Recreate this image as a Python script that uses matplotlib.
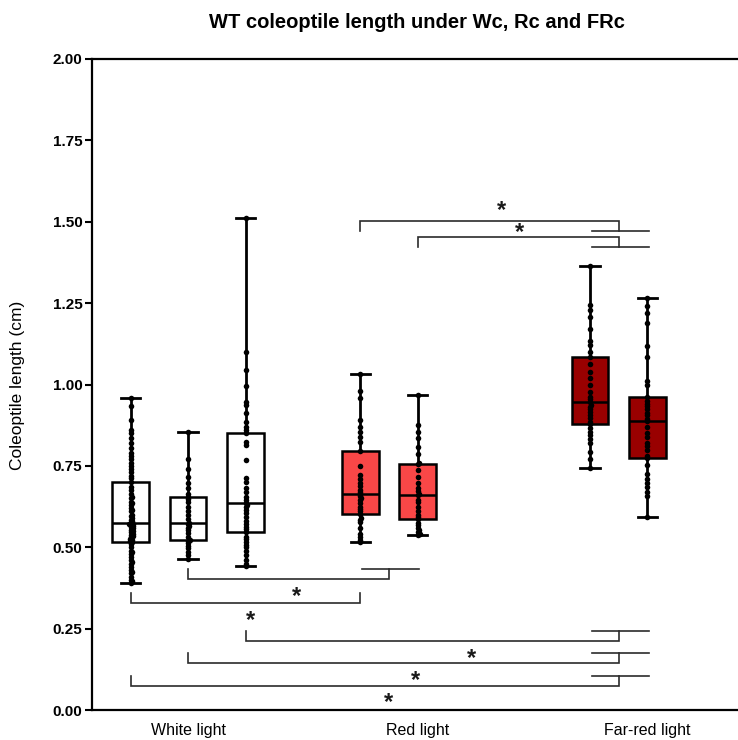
import matplotlib
matplotlib.use('Agg')
import matplotlib.pyplot as plt
import numpy as np

plt.rcParams['font.family'] = ['Liberation Sans', 'DejaVu Sans']

# ---------------- data ----------------
groups = ['White light', 'Red light', 'Far-red light']

wl1 = [0.39, 0.395, 0.40, 0.41, 0.42, 0.425, 0.43, 0.44, 0.45, 0.455, 0.46, 0.47, 0.48, 0.485, 0.49, 0.50, 0.51,
       0.515,
       0.518, 0.522, 0.525, 0.53, 0.534, 0.538, 0.542, 0.546, 0.55, 0.554, 0.558, 0.562, 0.565, 0.568, 0.57, 0.572,
       0.575,
       0.58, 0.585, 0.59, 0.595, 0.60, 0.61, 0.615, 0.62, 0.63, 0.635, 0.64, 0.65, 0.655, 0.665, 0.675, 0.685,
       0.70,
       0.712, 0.72, 0.73, 0.74, 0.75, 0.76, 0.77, 0.78, 0.79, 0.805, 0.82, 0.835, 0.85, 0.86, 0.89, 0.935,
       0.96]
wl2 = [0.464, 0.476, 0.486, 0.498, 0.505, 0.512, 0.518, 0.522, 0.532, 0.543, 0.553, 0.56, 0.565, 0.57,
       0.575, 0.586, 0.599, 0.61, 0.624, 0.64, 0.648, 0.655, 0.664, 0.682, 0.697, 0.716, 0.74, 0.771, 0.855]
wl3 = [0.442, 0.45, 0.46, 0.475, 0.49, 0.50, 0.507, 0.515, 0.525, 0.532, 0.548,
       0.555, 0.563, 0.57, 0.58, 0.594, 0.605, 0.615, 0.625, 0.63, 0.637,
       0.645, 0.655, 0.67, 0.682, 0.70, 0.713, 0.768, 0.814, 0.824, 0.85,
       0.86, 0.87, 0.886, 0.912, 0.937, 0.947, 0.995, 1.045, 1.10, 1.51]
red1 = [0.515, 0.522, 0.53, 0.541, 0.56, 0.578, 0.585, 0.59, 0.601,
        0.61, 0.618, 0.625, 0.635, 0.645, 0.65, 0.657, 0.663,
        0.67, 0.676, 0.687, 0.696, 0.71, 0.722, 0.75, 0.796,
        0.824, 0.84, 0.855, 0.87, 0.891, 0.96, 0.98, 1.031]
red2 = [0.538, 0.542, 0.548, 0.553, 0.56, 0.567, 0.573, 0.586,
        0.592, 0.599, 0.61, 0.625, 0.638, 0.645, 0.66,
        0.665, 0.672, 0.681, 0.696, 0.717, 0.737, 0.755,
        0.76, 0.785, 0.807, 0.835, 0.855, 0.876, 0.968]
fr1 = [0.742, 0.77, 0.794, 0.819, 0.832, 0.845, 0.855, 0.865, 0.878,
       0.886, 0.896, 0.906, 0.915, 0.925, 0.932, 0.937, 0.946,
       0.955, 0.963, 0.978, 0.998, 1.02, 1.039, 1.063, 1.085,
       1.101, 1.12, 1.135, 1.17, 1.208, 1.23, 1.245, 1.364]
fr2 = [0.594, 0.657, 0.671, 0.685, 0.696, 0.71, 0.725, 0.753, 0.773,
       0.78, 0.799, 0.81, 0.821, 0.84, 0.852, 0.87, 0.889,
       0.895, 0.905, 0.911, 0.925, 0.935, 0.941, 0.95, 0.961,
       0.998, 1.011, 1.083, 1.117, 1.19, 1.219, 1.24, 1.265]

series = [wl1, wl2, wl3, red1, red2, fr1, fr2]
positions = [0, 1, 2, 4, 5, 8, 9]
label_positions = [1, 5, 9]
face_colors = ['white', 'white', 'white', '#F94747', '#F94747', '#990000', '#990000']
yticks = [0.0, 0.25, 0.5, 0.75, 1.0, 1.25, 1.5, 1.75, 2.0]

# comparisons: (left pos, right pos, bar y, tick length (+ up / - down), group span or None, star x, star y)
comparisons = [
    (1, 4.5, 0.4015, 0.031, (4.03, 5.03), 2.88, 0.366),
    (0, 4.0, 0.3296, 0.031, None, 2.09, 0.293),
    (2, 8.5, 0.2129, 0.030, (8.03, 9.03), 5.93, 0.175),
    (1, 8.5, 0.1453, 0.031, (8.03, 9.03), 4.965, 0.108),
    (0, 8.5, 0.0737, 0.032, (8.03, 9.03), 4.49, 0.040),
    (4, 8.5, 1.5023, -0.032, (8.03, 9.03), 6.46, 1.552),
    (5, 8.5, 1.4522, -0.031, (8.03, 9.03), 6.78, 1.484),
]

# ---------------- figure ----------------
W, H = 738, 740
fig = plt.figure(figsize=(W / 100, H / 100), dpi=100)
ax_left, ax_right, ax_top, ax_bot = 92, 760, 59, 710
ax = fig.add_axes([ax_left / W, 1 - ax_bot / H, (ax_right - ax_left) / W, (ax_bot - ax_top) / H])

unit_px = 57.4
x0_px = 130.7
ax.set_xlim((ax_left - x0_px) / unit_px, (ax_right - x0_px) / unit_px)
ax.set_ylim(0, 2.0)

bp = ax.boxplot(series, positions=positions, widths=0.64, whis=(0, 100), showfliers=False,
                patch_artist=True, capwidths=0.34,
                boxprops=dict(linewidth=1.8, edgecolor='black'),
                medianprops=dict(color='black', linewidth=1.8),
                whiskerprops=dict(color='black', linewidth=2.0),
                capprops=dict(color='black', linewidth=2.0))
for patch, c in zip(bp['boxes'], face_colors):
    patch.set_facecolor(c)
    patch.set_zorder(2)

# very mild swarm of dots (pixel space)
px_per_y = (ax_bot - ax_top) / 2.0
def swarm(vals, thr=1.8, step=1.1):
    placed = []
    offs = []
    for v in sorted(vals):
        yp = v * px_per_y
        best, bestd = 0.0, -1
        for k in [0, 1, -1, 2, -2]:
            xp = k * step
            dmin = min([np.hypot(xp - a, yp - b) for a, b in placed[-8:]] + [99])
            if dmin >= thr:
                best = xp
                break
            if dmin > bestd:
                bestd, best = dmin, xp
        placed.append((best, yp))
        offs.append((best, v))
    return offs

for vals, pos in zip(series, positions):
    pts = swarm(vals)
    xs = [pos + o / unit_px for o, v in pts]
    ys = [v for o, v in pts]
    ax.plot(xs, ys, 'o', color='black', markersize=4.0, markeredgewidth=0, zorder=4)

# brackets
lc = '#2b2b2b'
star_shift = 0.018
for lp, rp, yb, h, grp, sx, sy in comparisons:
    ax.plot([lp, lp, rp, rp], [yb + h, yb, yb, yb + h], color=lc, lw=1.2, clip_on=False, zorder=5,
            solid_joinstyle='miter')
    if grp is not None:
        ax.plot([grp[0], grp[1]], [yb + h, yb + h], color=lc, lw=1.2, clip_on=False, zorder=5)
    ax.text(sx, sy - star_shift, '*', ha='center', va='center', fontsize=17, fontweight='bold',
            color='#1a1a1a', zorder=6)

# axes styling
for s in ['left', 'top', 'bottom', 'right']:
    ax.spines[s].set_linewidth(1.6)
    ax.spines[s].set_color('black')
ax.set_yticks(yticks)
ax.set_yticklabels(['%.2f' % t for t in yticks], fontweight='bold', fontsize=11)
ax.tick_params(axis='y', length=5, width=1.5, pad=2, direction='out')
ax.set_xticks(label_positions)
ax.set_xticklabels(groups, fontsize=11.5)
ax.tick_params(axis='x', length=0, pad=9)

fig.text(18 / W, 1 - 385 / H, 'Coleoptile length (cm)', rotation=90, ha='center', va='center', fontsize=12.5)
fig.text(417 / W, 1 - 22 / H, 'WT coleoptile length under Wc, Rc and FRc', ha='center', va='center',
         fontsize=14.5, fontweight='bold')

fig.savefig('out.png', dpi=100)
